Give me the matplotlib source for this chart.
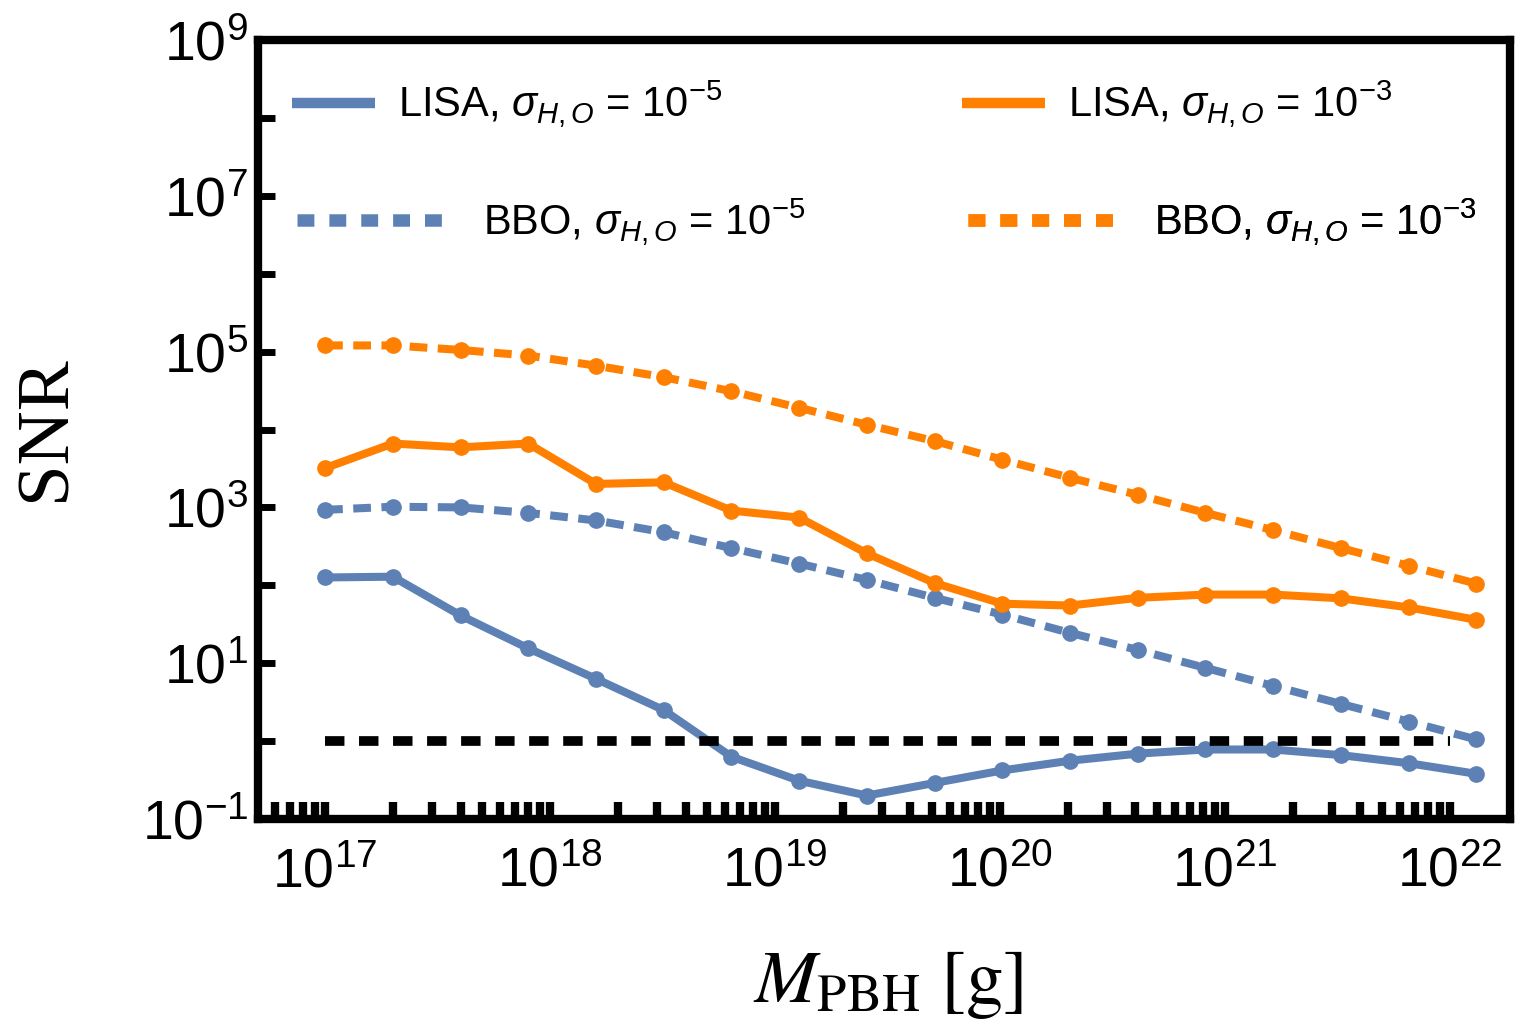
#!/usr/bin/env python3
"""SNR of LISA and BBO versus PBH mass for two values of sigma_{H,O}.

Writes out.png
"""

from pathlib import Path

import matplotlib

matplotlib.use("Agg")
import matplotlib.pyplot as plt
import matplotlib.ticker as mticker
import numpy as np
from matplotlib.lines import Line2D

OUT_PATH = Path("out.png")

BLUE = "#5E81B5"
ORANGE = "#FF8000"

# PBH masses [g] (factor 2 steps from 1e17 g)
M_PBH = [1e17, 2e17, 4e17, 8e17, 1.6e18, 3.2e18, 6.4e18, 1.28e19, 2.56e19,
         5.12e19, 1.024e20, 2.048e20, 4.096e20, 8.192e20, 1.6384e21,
         3.2768e21, 6.5536e21, 1.31072e22]

# SNR
SNR_LISA_5 = [126, 129, 41, 15.5, 6.3, 2.5, 0.63, 0.31, 0.20, 0.29, 0.42,
              0.56, 0.69, 0.78, 0.78, 0.66, 0.52, 0.38]
SNR_BBO_5 = [930, 1020, 1000, 850, 680, 480, 300, 190, 117, 69, 42, 24.5,
             14.8, 8.7, 5.1, 3.0, 1.78, 1.05]
SNR_LISA_3 = [3200, 6600, 5900, 6600, 2000, 2100, 910, 740, 257, 107, 58, 55,
              69, 76, 76, 68, 52, 36]
SNR_BBO_3 = [1.2e5, 1.2e5, 1.05e5, 8.9e4, 6.6e4, 4.7e4, 3.1e4, 1.9e4, 1.15e4,
             7100, 4100, 2400, 1450, 850, 510, 300, 178, 105]

# SNR = 1 detection threshold
THRESH_M = [1e17, 1e22]
THRESH_SNR = [1, 1]

LABEL_LISA_5 = r"LISA, $\sigma_{H,O}$ = $10^{-5}$"
LABEL_BBO_5 = r"BBO, $\sigma_{H,O}$ = $10^{-5}$"
LABEL_LISA_3 = r"LISA, $\sigma_{H,O}$ = $10^{-3}$"
LABEL_BBO_3 = r"BBO, $\sigma_{H,O}$ = $10^{-3}$"

Y_MAJOR = [1e-1, 1e1, 1e3, 1e5, 1e7, 1e9]
Y_MINOR = [1e0, 1e2, 1e4, 1e6, 1e8]


def pow10(v, _pos=None) -> str:
    return rf"$10^{{{int(round(np.log10(v)))}}}$"


def add_entry(ax, handle, label, x, y, handlelength, textpad) -> None:
    leg = ax.legend([handle], [label], loc="center left", bbox_to_anchor=(x, y),
                    frameon=False, borderpad=0, borderaxespad=0,
                    handlelength=handlelength, handletextpad=textpad, fontsize=30)
    ax.add_artist(leg)


def main() -> None:
    plt.rcParams["font.family"] = ["Liberation Sans", "DejaVu Sans"]
    plt.rcParams["mathtext.fontset"] = "custom"
    plt.rcParams["mathtext.rm"] = "Liberation Sans"
    plt.rcParams["mathtext.it"] = "Liberation Sans:italic"
    plt.rcParams["mathtext.bf"] = "Liberation Sans:bold"

    fig = plt.figure(figsize=(15.17, 10.29), dpi=100)
    ax = fig.add_axes([0.1701, 0.2041, 0.8253, 0.757])

    lw = 5.8
    common = dict(marker="o", markersize=11, lw=lw, solid_joinstyle="round",
                  dash_capstyle="butt")
    ax.plot(M_PBH, SNR_LISA_5, color=BLUE, **common)
    ax.plot(M_PBH, SNR_BBO_5, color=BLUE, dashes=(2.2, 1.3), **common)
    ax.plot(M_PBH, SNR_LISA_3, color=ORANGE, **common)
    ax.plot(M_PBH, SNR_BBO_3, color=ORANGE, dashes=(2.2, 1.3), **common)
    ax.plot(THRESH_M, THRESH_SNR, color="black", lw=7, dashes=(2.0, 1.5),
            dash_capstyle="butt", zorder=5)

    ax.set_xscale("log")
    ax.set_yscale("log")
    ax.set_xlim(10 ** 16.702, 10 ** 22.267)
    ax.set_ylim(1e-1, 1e9)

    ax.xaxis.set_major_locator(mticker.LogLocator(base=10, numticks=30))
    ax.xaxis.set_minor_locator(mticker.LogLocator(base=10, subs=np.arange(2, 10), numticks=100))
    ax.xaxis.set_major_formatter(mticker.FuncFormatter(pow10))
    ax.xaxis.set_minor_formatter(mticker.NullFormatter())
    ax.yaxis.set_major_locator(mticker.FixedLocator(Y_MAJOR))
    ax.yaxis.set_minor_locator(mticker.FixedLocator(Y_MINOR))
    ax.yaxis.set_major_formatter(mticker.FuncFormatter(pow10))
    ax.yaxis.set_minor_formatter(mticker.NullFormatter())

    ax.tick_params(axis="both", which="both", direction="in", top=False, right=False)
    ax.tick_params(axis="x", which="both", length=12, width=6, pad=20, labelsize=40)
    ax.tick_params(axis="y", which="both", length=12, width=5, pad=7, labelsize=40)
    for spine in ax.spines.values():
        spine.set_linewidth(6)

    ax.set_ylabel("SNR", fontsize=54, family="Liberation Serif", va="center")
    ax.yaxis.set_label_coords(-0.1685, 0.502)
    ax.set_xlabel(r"$M_{\rm PBH}\ [{\rm g}]$", fontsize=54, math_fontfamily="stix",
                  va="center")
    ax.xaxis.set_label_coords(0.503, -0.213)

    solid_b = Line2D([], [], color=BLUE, lw=7.5, solid_capstyle="butt")
    dash_b = Line2D([], [], color=BLUE, lw=9, dashes=(1.35, 1.2), dash_capstyle="butt")
    solid_o = Line2D([], [], color=ORANGE, lw=7.5, solid_capstyle="butt")
    dash_o = Line2D([], [], color=ORANGE, lw=9, dashes=(1.35, 1.2), dash_capstyle="butt")
    add_entry(ax, solid_b, LABEL_LISA_5, 0.027, 0.917, 2.0, 0.55)
    add_entry(ax, dash_b, LABEL_BBO_5, 0.031, 0.766, 3.72, 0.75)
    add_entry(ax, solid_o, LABEL_LISA_3, 0.562, 0.917, 2.0, 0.55)
    add_entry(ax, dash_o, LABEL_BBO_3, 0.567, 0.766, 3.72, 0.75)

    fig.savefig(OUT_PATH, dpi=100)
    plt.close(fig)


if __name__ == "__main__":
    main()
